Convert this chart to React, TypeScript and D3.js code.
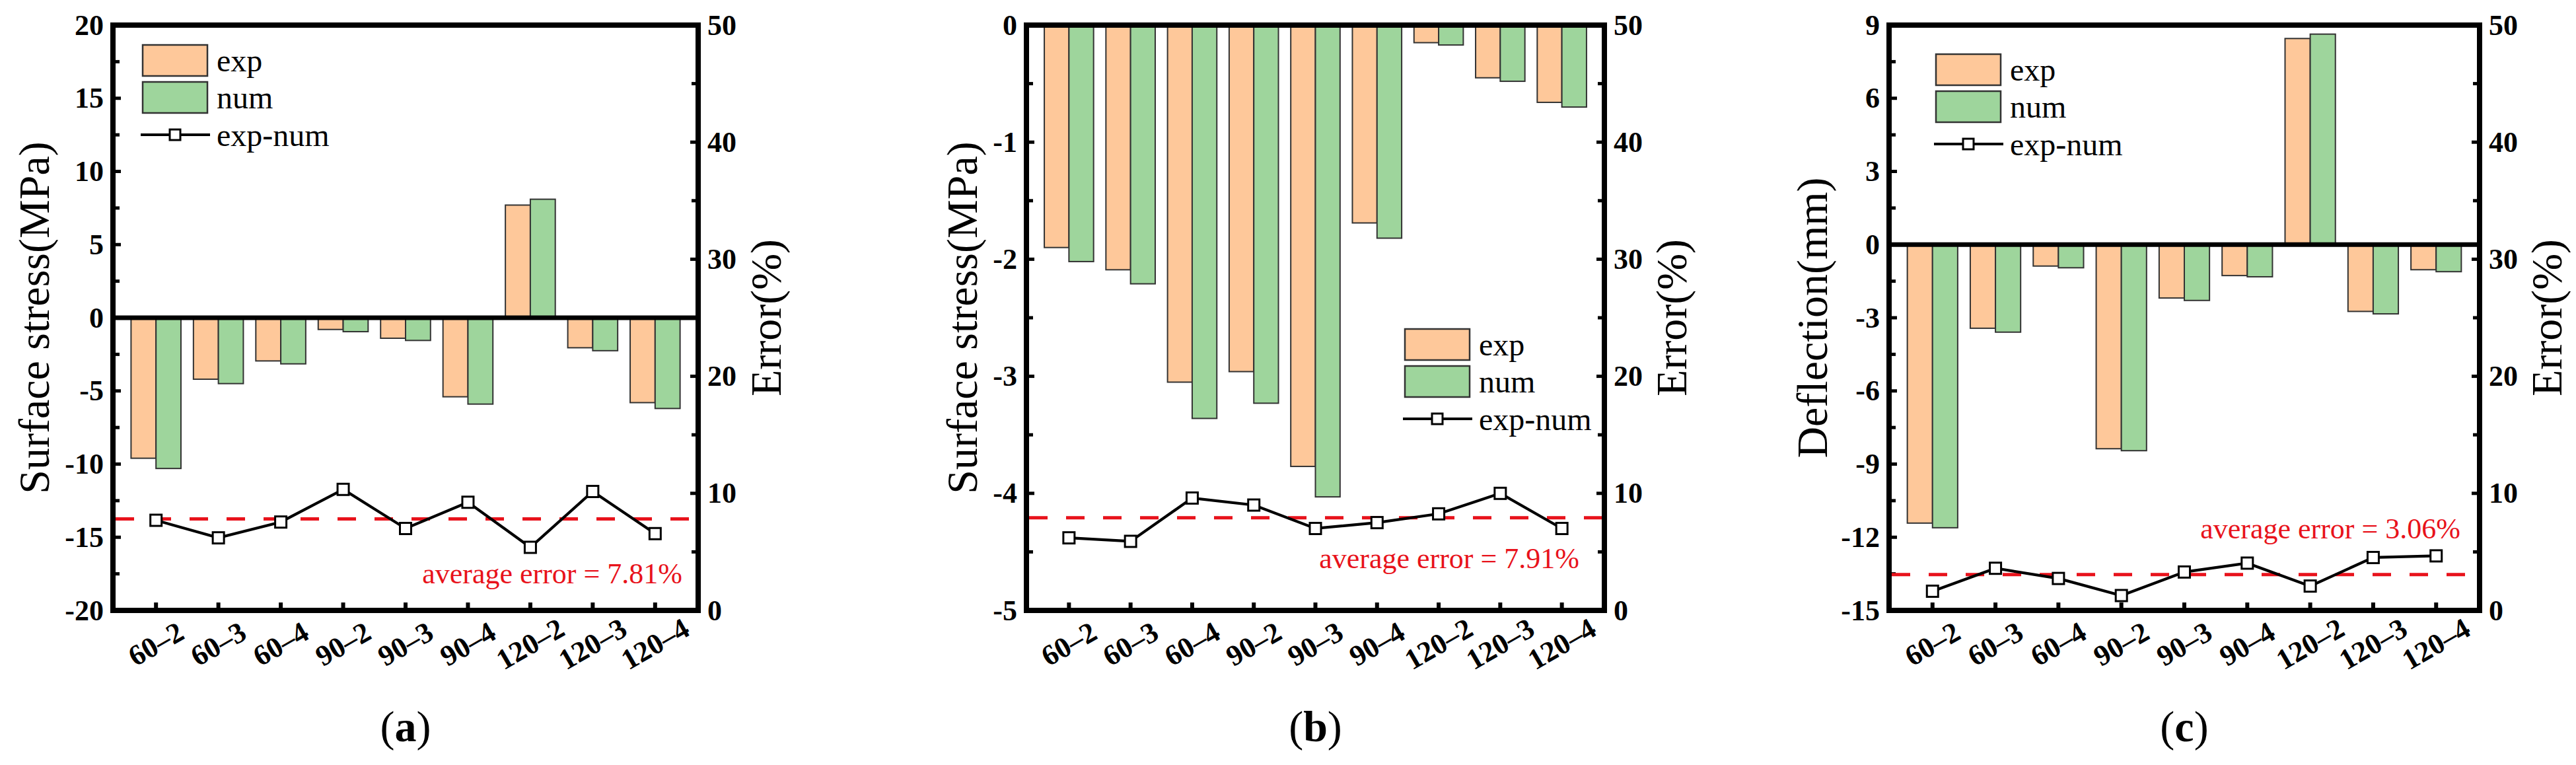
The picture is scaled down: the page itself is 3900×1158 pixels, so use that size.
import React from "react";
import * as d3 from "d3";

const categories = ["60–2", "60–3", "60–4", "90–2", "90–3", "90–4", "120–2", "120–3", "120–4"];

const aExp = [-9.6, -4.2, -2.95, -0.8, -1.4, -5.4, 7.7, -2.05, -5.8];
const aNum = [-10.3, -4.5, -3.15, -0.95, -1.55, -5.9, 8.1, -2.25, -6.2];
const aErr = [7.7, 6.2, 7.55, 10.34, 7.0, 9.24, 5.39, 10.16, 6.56];

const bExp = [-1.9, -2.09, -3.05, -2.96, -3.77, -1.69, -0.15, -0.45, -0.66];
const bNum = [-2.02, -2.21, -3.36, -3.23, -4.03, -1.82, -0.17, -0.48, -0.7];
const bErr = [6.2, 5.9, 9.6, 9.0, 7.0, 7.5, 8.25, 10.0, 7.0];

const cExp = [-11.42, -3.43, -0.88, -8.37, -2.19, -1.27, 8.45, -2.74, -1.03];
const cNum = [-11.61, -3.59, -0.95, -8.45, -2.29, -1.32, 8.63, -2.84, -1.11];
const cErr = [1.64, 3.6, 2.73, 1.27, 3.28, 4.04, 2.08, 4.52, 4.66];

const avgErrors = [7.81, 7.91, 3.06];
const yTitles = ["Surface stress(MPa)", "Surface stress(MPa)", "Deflection(mm)"];
const rightTitle = "Error(%)";
const captions = ["a", "b", "c"];
const legendLabels = ["exp", "num", "exp-num"];

const FONT = "'Liberation Serif','Times New Roman',Times,serif";
const EXP_COLOR = "#FEC89A";
const NUM_COLOR = "#9ED59C";
const RED = "#E8121B";

type PanelCfg = {
  left: number; right: number; top: number; bottom: number;
  yDomain: [number, number]; major: number;
  exp: number[]; num: number[]; err: number[]; avg: number;
  title: string; caption: string;
  titleOff: number; rTitleOff: number;
  legend: [number, number];
  avgPos: [number, number];
};

const panels: PanelCfg[] = [
  { left: 171, right: 1057, top: 38, bottom: 924, yDomain: [-20, 20], major: 5,
    exp: aExp, num: aNum, err: aErr, avg: avgErrors[0], title: yTitles[0], caption: captions[0],
    titleOff: -97, rTitleOff: 125, legend: [216, 68], avgPos: [1033, 883] },
  { left: 1554, right: 2429, top: 38, bottom: 924, yDomain: [-5, 0], major: 1,
    exp: bExp, num: bNum, err: bErr, avg: avgErrors[1], title: yTitles[1], caption: captions[1],
    titleOff: -75, rTitleOff: 124, legend: [2127, 498], avgPos: [2391, 860] },
  { left: 2860, right: 3754, top: 38, bottom: 924, yDomain: [-15, 9], major: 3,
    exp: cExp, num: cNum, err: cErr, avg: avgErrors[2], title: yTitles[2], caption: captions[2],
    titleOff: -94, rTitleOff: 124, legend: [2931, 82], avgPos: [3725, 815] },
];

function Panel({ p }: { p: PanelCfg }) {
  const x = d3.scalePoint<string>().domain(categories).range([p.left, p.right]).padding(0.69);
  const step = x.step();
  const barW = step * 0.4;
  const y = d3.scaleLinear().domain(p.yDomain).range([p.bottom, p.top]);
  const yr = d3.scaleLinear().domain([0, 50]).range([p.bottom, p.top]);
  const [ymin, ymax] = p.yDomain;
  const majors = d3.range(ymin, ymax + 1e-9, p.major);
  const minors = majors.slice(0, -1).map((v) => v + p.major / 2);
  const rMajors = d3.range(0, 51, 10);
  const rMinors = d3.range(5, 50, 10);
  const midY = (p.top + p.bottom) / 2;
  const midX = (p.left + p.right) / 2;
  const line = d3.line<number>().x((_, i) => x(categories[i]) as number).y((d) => yr(d));
  const axisW = 8;
  const [lx, ly] = p.legend;
  const boxW = 98, boxH = 47;
  const mk = 17;
  const fmt = (v: number) => String(Math.round(v * 100) / 100);
  const legLineY = ly + 2 * boxH + 42;
  return (
    <g>
      {categories.map((c, i) => {
        const cx = x(c) as number;
        const e = p.exp[i], n = p.num[i];
        return (
          <g key={c}>
            <rect x={cx - barW} y={Math.min(y(e), y(0))} width={barW} height={Math.abs(y(e) - y(0))}
              fill={EXP_COLOR} stroke="#333" strokeWidth={2} />
            <rect x={cx} y={Math.min(y(n), y(0))} width={barW} height={Math.abs(y(n) - y(0))}
              fill={NUM_COLOR} stroke="#333" strokeWidth={2} />
          </g>
        );
      })}
      {ymin < 0 && ymax > 0 && (
        <line x1={p.left} x2={p.right} y1={y(0)} y2={y(0)} stroke="#000" strokeWidth={7} />
      )}
      <rect x={p.left} y={p.top} width={p.right - p.left} height={p.bottom - p.top}
        fill="none" stroke="#000" strokeWidth={axisW} />
      {majors.map((v) => (
        <line key={"lm" + v} x1={p.left} x2={p.left + 12} y1={y(v)} y2={y(v)} stroke="#000" strokeWidth={5} />
      ))}
      {minors.map((v) => (
        <line key={"ln" + v} x1={p.left} x2={p.left + 10} y1={y(v)} y2={y(v)} stroke="#000" strokeWidth={5} />
      ))}
      {majors.map((v) => (
        <text key={"lt" + v} x={p.left - 14} y={y(v)} textAnchor="end" dominantBaseline="central"
          fontFamily={FONT} fontWeight="bold" fontSize={44}>{fmt(v)}</text>
      ))}
      {rMajors.map((v) => (
        <line key={"rm" + v} x1={p.right} x2={p.right - 12} y1={yr(v)} y2={yr(v)} stroke="#000" strokeWidth={5} />
      ))}
      {rMinors.map((v) => (
        <line key={"rn" + v} x1={p.right} x2={p.right - 10} y1={yr(v)} y2={yr(v)} stroke="#000" strokeWidth={5} />
      ))}
      {rMajors.map((v) => (
        <text key={"rt" + v} x={p.right + 14} y={yr(v)} textAnchor="start" dominantBaseline="central"
          fontFamily={FONT} fontWeight="bold" fontSize={44}>{v}</text>
      ))}
      {categories.map((c) => {
        const cx = x(c) as number;
        return (
          <g key={"bt" + c}>
            <line x1={cx} x2={cx} y1={p.bottom} y2={p.bottom - 12} stroke="#000" strokeWidth={6} />
            <text x={cx} y={p.bottom + 51} textAnchor="middle" dominantBaseline="central"
              transform={`rotate(-30 ${cx} ${p.bottom + 51})`}
              fontFamily={FONT} fontWeight="bold" fontSize={44}>{c}</text>
          </g>
        );
      })}
      <line x1={p.left + axisW / 2} x2={p.right - axisW / 2} y1={yr(p.avg)} y2={yr(p.avg)}
        stroke={RED} strokeWidth={5} strokeDasharray="28 28" />
      <path d={line(p.err) as string} fill="none" stroke="#000" strokeWidth={4.2} />
      {p.err.map((v, i) => {
        const cx = x(categories[i]) as number;
        return <rect key={"mk" + i} x={cx - mk / 2} y={yr(v) - mk / 2} width={mk} height={mk}
          fill="#fff" stroke="#000" strokeWidth={3} />;
      })}
      <text x={p.avgPos[0]} y={p.avgPos[1]} textAnchor="end" fontFamily={FONT} fontSize={44} fill={RED}>
        {`average error = ${p.avg.toFixed(2)}%`}
      </text>
      <rect x={lx} y={ly} width={boxW} height={boxH} fill={EXP_COLOR} stroke="#333" strokeWidth={2.5} />
      <rect x={lx} y={ly + boxH + 9} width={boxW} height={boxH} fill={NUM_COLOR} stroke="#333" strokeWidth={2.5} />
      <line x1={lx - 3} x2={lx + boxW + 4} y1={legLineY} y2={legLineY} stroke="#000" strokeWidth={4.2} />
      <rect x={lx + boxW / 2 - 8} y={legLineY - 8} width={16} height={16} fill="#fff" stroke="#000" strokeWidth={3} />
      {legendLabels.map((t, i) => (
        <text key={t} x={lx + 112} y={i === 2 ? legLineY : ly + boxH / 2 + i * (boxH + 9)}
          dominantBaseline="central" fontFamily={FONT} fontSize={48}>{t}</text>
      ))}
      <text x={p.left + p.titleOff} y={midY} textAnchor="middle" transform={`rotate(-90 ${p.left + p.titleOff} ${midY})`}
        fontFamily={FONT} fontSize={66}>{p.title}</text>
      <text x={p.right + p.rTitleOff} y={midY} textAnchor="middle" transform={`rotate(-90 ${p.right + p.rTitleOff} ${midY})`}
        fontFamily={FONT} fontSize={66}>{rightTitle}</text>
      <text x={midX} y={1122} textAnchor="middle" fontFamily={FONT} fontSize={66}>
        (<tspan fontWeight="bold">{p.caption}</tspan>)
      </text>
    </g>
  );
}

export default function App() {
  return (
    <svg width={3900} height={1158} viewBox="0 0 3900 1158"
      style={{ position: "absolute", left: 0, top: 0, background: "#fff" }}>
      <rect width={3900} height={1158} fill="#fff" />
      {panels.map((p, i) => <Panel key={i} p={p} />)}
    </svg>
  );
}
